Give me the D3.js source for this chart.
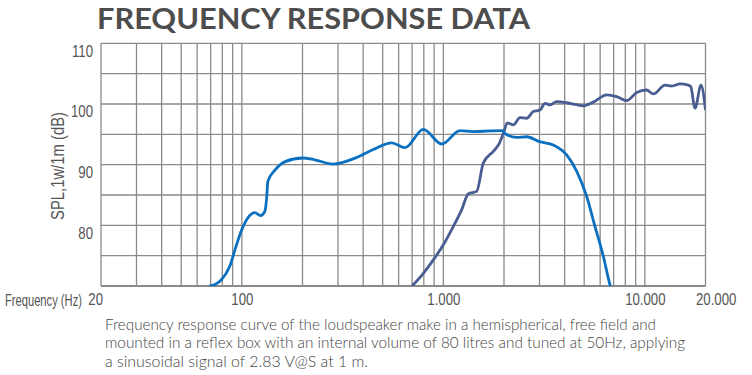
<!DOCTYPE html>
<html>
<head>
<meta charset="utf-8">
<script src="https://cdn.jsdelivr.net/npm/d3@7"></script>
<style>
  html, body { margin: 0; padding: 0; background: #fff; }
  svg { display: block; }
  .narrow { font-family: "Liberation Sans", Arial, sans-serif; fill: #555; }
</style>
</head>
<body>
<div id="chart"></div>
<script>
  "use strict";

  //============================================================
  // Data
  //------------------------------------------------------------

  var wooferFreq = [69, 74, 79, 87, 92.5, 100, 108, 116, 124, 130, 133, 134.5, 146, 164, 200, 230, 284, 372, 449, 554, 646, 796, 982, 1210, 1408, 1705, 1950, 2050, 2312, 2593, 3000, 3514, 4093, 4592, 5146, 5658, 6222, 6714, 6900];
  var wooferSpl = [70.0, 70.3, 71.0, 73.2, 76.0, 79.3, 81.4, 82.1, 81.6, 82.3, 84.8, 87.2, 89.1, 90.5, 91.1, 90.8, 90.1, 91.2, 92.5, 93.6, 92.8, 95.8, 93.4, 95.6, 95.45, 95.55, 95.6, 95.0, 94.5, 94.6, 93.8, 93.25, 91.6, 88.9, 84.75, 79.8, 74.9, 70.2, 68.9];

  var tweeterFreq = [700, 796, 892, 1000, 1120, 1234, 1331, 1464, 1578, 1770, 1896, 2000, 2076, 2224, 2401, 2593, 2795, 3018, 3195, 3390, 3652, 4252, 4950, 5548, 6468, 7250, 8128, 9115, 10200, 11016, 12590, 13594, 14940, 16432, 16900, 17740, 19000, 20000];
  var tweeterSpl = [70.0, 72.1, 74.3, 76.8, 79.8, 82.6, 85.2, 85.6, 90.25, 92.2, 93.5, 95.45, 96.9, 96.55, 97.75, 97.65, 98.75, 99.0, 100.1, 99.85, 100.4, 100.1, 99.7, 100.3, 101.5, 101.2, 100.55, 101.9, 102.3, 101.65, 103.1, 102.95, 103.3, 103.1, 102.85, 99.3, 103.1, 99.0];

  var xDomain = [20, 20000];
  var yDomain = [70, 110];
  var xTickValues = [20, 100, 1000, 10000, 20000];
  var xTickLabels = ["20", "100", "1.000", "10.000", "20.000"];
  var yTickValues = [80, 90, 100, 110];

  var title = "FREQUENCY RESPONSE DATA";
  var xTitle = "Frequency (Hz)";
  var yTitle = "SPL,1w/1m (dB)";
  var caption = [
    "Frequency response curve of the loudspeaker make in a hemispherical, free field and",
    "mounted in a reflex box with an internal volume of 80 litres and tuned at 50Hz, applying",
    "a sinusoidal signal of 2.83 V@S at 1 m."
  ];

  //============================================================
  // Layout
  //------------------------------------------------------------

  var width = 752,
    height = 375,
    margin = { top: 43.3, right: 46.5, bottom: 89, left: 101 },
    condense = 0.8,
    gridColor = "#8a8a8a",
    wooferColor = "#0b70c0",
    tweeterColor = "#4a5d93";

  // squeeze a text horizontally, to mimic the condensed face of the original
  function narrow(sel, fixed) {
    sel.each(function() {
      var len = fixed || this.getComputedTextLength() * condense;
      d3.select(this)
        .attr("textLength", len)
        .attr("lengthAdjust", "spacingAndGlyphs");
    });
  }

  var svg = d3.select("#chart").append("svg")
    .attr("width", width)
    .attr("height", height);

  var x = d3.scaleLog()
    .domain(xDomain)
    .range([margin.left, width - margin.right]);

  var y = d3.scaleLinear()
    .domain(yDomain)
    .range([height - margin.bottom, margin.top]);

  // title
  svg.append("text")
    .attr("x", 97)
    .attr("y", 29)
    .attr("textLength", 433)
    .attr("lengthAdjust", "spacingAndGlyphs")
    .style("font-family", "Lato, 'Open Sans', sans-serif")
    .style("font-weight", 700)
    .style("font-size", "29px")
    .style("fill", "#4d4d4d")
    .text(title);

  //------------------------------------------------------------
  // Grid

  var grid = svg.append("g").attr("class", "grid");

  grid.selectAll("line.v")
    .data(x.ticks())
    .enter().append("line")
    .attr("class", "v")
    .attr("x1", function(d) { return x(d); })
    .attr("x2", function(d) { return x(d); })
    .attr("y1", y.range()[1])
    .attr("y2", y.range()[0])
    .style("stroke", gridColor)
    .style("stroke-width", 1.3);

  grid.selectAll("line.h")
    .data(d3.range(yDomain[0], yDomain[1] + 1, 5))
    .enter().append("line")
    .attr("class", "h")
    .attr("x1", x.range()[0])
    .attr("x2", x.range()[1])
    .attr("y1", function(d) { return y(d); })
    .attr("y2", function(d) { return y(d); })
    .style("stroke", gridColor)
    .style("stroke-width", function(d) { return d === yDomain[0] ? 2.2 : 1.3; });

  //------------------------------------------------------------
  // Axes labels

  var xAxis = d3.axisBottom(x)
    .tickValues(xTickValues)
    .tickFormat(function(d, i) { return xTickLabels[i]; })
    .tickSize(0)
    .tickPadding(0);

  var gx = svg.append("g")
    .attr("transform", "translate(0," + (y.range()[0] + 7) + ")")
    .call(xAxis);
  gx.select(".domain").remove();
  gx.selectAll("text")
    .attr("class", "narrow")
    .attr("dy", "0.71em")
    .style("font-size", "16.5px")
    .style("fill", "#555")
    .call(narrow);

  // first label sits left of its line, last one right of it
  gx.selectAll("text")
    .attr("text-anchor", function(d, i) {
      return (i === 0 || i === xTickValues.length - 1) ? "start" : "middle";
    })
    .attr("x", function(d, i) {
      if (i === 0) return 1.5 - (+d3.select(this).attr("textLength"));
      if (i === xTickValues.length - 1) return -10;
      return 0;
    });

  var yAxis = d3.axisLeft(y)
    .tickValues(yTickValues)
    .tickSize(0)
    .tickPadding(8);

  var gy = svg.append("g")
    .attr("transform", "translate(" + x.range()[0] + ",0)")
    .call(yAxis);
  gy.select(".domain").remove();
  gy.selectAll("text")
    .attr("class", "narrow")
    .attr("dy", "0.78em")
    .style("font-size", "16.5px")
    .style("fill", "#555")
    .call(narrow);

  // x title: squeezed with a transform so its box stays clear of the "20"
  var xt = svg.append("text")
    .attr("class", "narrow")
    .style("font-size", "16.5px")
    .text(xTitle);
  var xtScale = 77 / xt.node().getComputedTextLength();
  xt.attr("transform", "translate(5," + (y.range()[0] + 20) + ") scale(" + xtScale + ",1)");

  svg.append("text")
    .attr("class", "narrow")
    .attr("transform", "translate(64,166) rotate(-90)")
    .attr("text-anchor", "middle")
    .style("font-size", "17.5px")
    .text(yTitle)
    .call(narrow, 108);

  //------------------------------------------------------------
  // Curves

  svg.append("clipPath")
    .attr("id", "plot-clip")
    .append("rect")
    .attr("x", x.range()[0])
    .attr("y", y.range()[1])
    .attr("width", x.range()[1] - x.range()[0])
    .attr("height", y.range()[0] - y.range()[1]);

  var line = d3.line()
    .x(function(d) { return x(d[0]); })
    .y(function(d) { return y(d[1]); })
    .curve(d3.curveMonotoneX);

  var series = [
    { freq: tweeterFreq, spl: tweeterSpl, color: tweeterColor },
    { freq: wooferFreq, spl: wooferSpl, color: wooferColor }
  ];

  svg.append("g")
    .attr("clip-path", "url(#plot-clip)")
    .selectAll("path")
    .data(series)
    .enter().append("path")
    .attr("d", function(s) { return line(d3.zip(s.freq, s.spl)); })
    .style("fill", "none")
    .style("stroke", function(s) { return s.color; })
    .style("stroke-width", 2.8)
    .style("stroke-linejoin", "round");

  //------------------------------------------------------------
  // Caption

  var captionWidths = [551, 580, 263];

  svg.append("g")
    .selectAll("text")
    .data(caption)
    .enter().append("text")
    .attr("x", 105)
    .attr("y", function(d, i) { return 330 + i * 18.3; })
    .attr("textLength", function(d, i) { return captionWidths[i]; })
    .attr("lengthAdjust", "spacingAndGlyphs")
    .style("font-family", "Lato, 'Open Sans', sans-serif")
    .style("font-weight", 300)
    .style("font-size", "15px")
    .style("fill", "#444")
    .text(function(d) { return d; });
</script>
</body>
</html>
